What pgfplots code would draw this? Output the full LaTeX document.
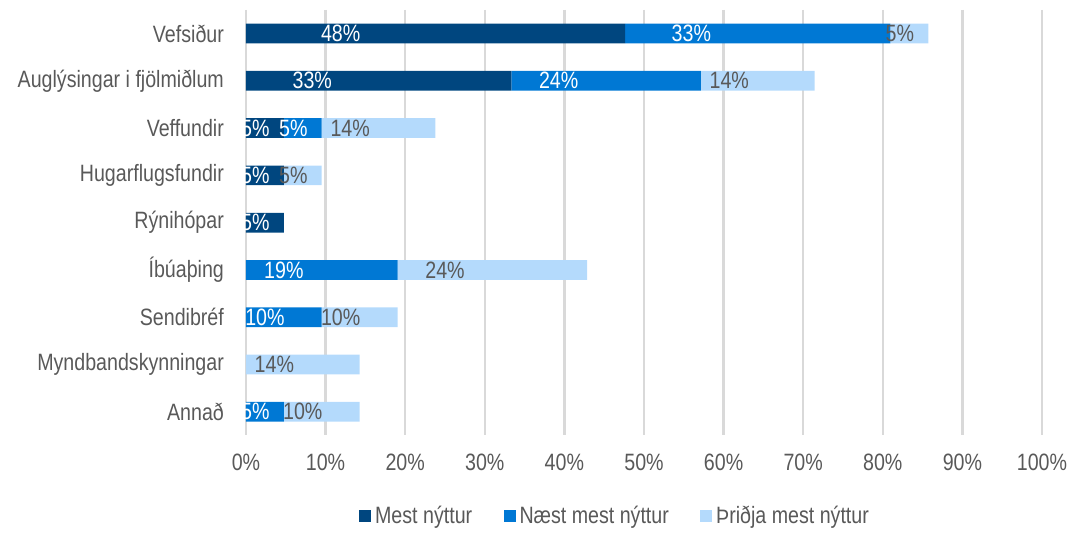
\documentclass[border=0pt]{standalone}
\usepackage{pgfplots}
\pgfplotsset{compat=1.18}
\usepackage{fontspec}
\setmainfont{Liberation Sans}[FakeStretch=0.83]
\definecolor{mest}{RGB}{0,70,127}
\definecolor{naest}{RGB}{0,120,212}
\definecolor{thridja}{RGB}{180,218,252}
\definecolor{txtgray}{RGB}{89,89,89}
\definecolor{gridgray}{RGB}{217,217,217}
\begin{document}
\fontsize{12}{14}\selectfont
\begin{tikzpicture}
\begin{axis}[
  name=ax,
  xbar stacked,
  bar width=10pt,
  scale only axis,
  width=404pt, height=216pt,
  xmin=0, xmax=100,
  ymin=-0.5, ymax=8.5,
  y dir=reverse,
  ytick={0,...,8},
  yticklabels={Vefsiður, Auglýsingar i fjölmiðlum, Veffundir, Hugarflugsfundir,
    Rýnihópar, Íbúaþing, Sendibréf, Myndbandskynningar, Annað},
  xtick={0,10,...,100},
  xticklabel={\pgfmathprintnumber{\tick}\%},
  /pgf/number format/assume math mode=true,
  xmajorgrids,
  grid style={draw=gridgray, line width=1.2pt},
  axis line style={draw=none},
  major tick length=0pt,
  tick label style={text=txtgray},
  yticklabel style={xshift=-7pt},
  xticklabel style={yshift=-5pt},
  point meta=rawx,
  visualization depends on=rawx \as \rawx,
  nodes near coords={\pgfmathprintnumber[fixed,precision=0]{\pgfplotspointmeta}\%},
  every node near coord/.append style={anchor=center, inner sep=0pt,
    shift={(axis direction cs:-\rawx/4,0)}},
  legend style={at={(0.465,-0.19)}, anchor=center, draw=none,
    legend columns=-1, text=txtgray,
    /tikz/every even column/.append style={column sep=14pt}},
  legend image code/.code={\fill[#1] (0pt,-3pt) rectangle (6pt,3pt);},
]
\addplot[fill=mest, draw=none, nodes near coords style={text=white}]
  coordinates {(47.62,0) (33.33,1) (4.76,2) (4.76,3) (4.76,4) (0,5) (0,6) (0,7) (0,8)};
\addplot[fill=naest, draw=none, nodes near coords style={text=white}]
  coordinates {(33.33,0) (23.81,1) (4.76,2) (0,3) (0,4) (19.05,5) (9.52,6) (0,7) (4.76,8)};
\addplot[fill=thridja, draw=none, nodes near coords style={text=txtgray}]
  coordinates {(4.76,0) (14.29,1) (14.29,2) (4.76,3) (0,4) (23.81,5) (9.52,6) (14.29,7) (9.52,8)};
\legend{Mest nýttur, Næst mest nýttur, Þriðja mest nýttur}
\end{axis}
\path ([xshift=-5pt]current bounding box.west);
\path ([yshift=5pt]ax.north);
\end{tikzpicture}
\end{document}
